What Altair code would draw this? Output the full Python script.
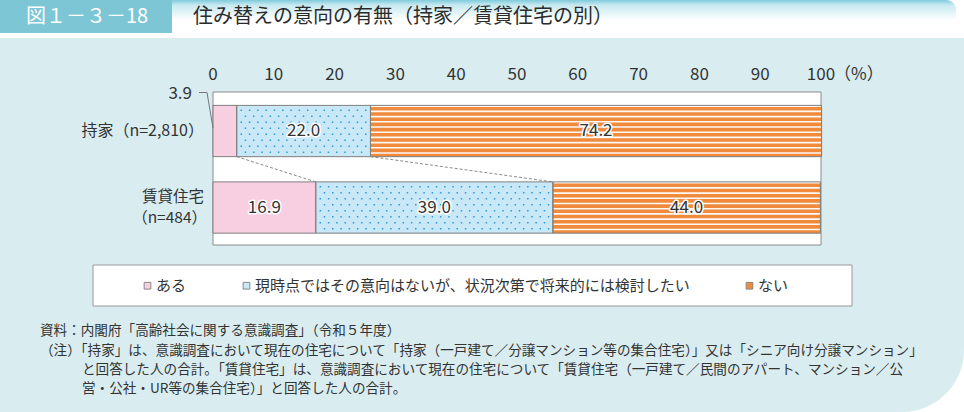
import altair as alt
import pandas as pd

# ---------------- data ----------------
categories = ["持家", "賃貸住宅"]
cat_label_lines = [["持家（n=2,810）"], ["賃貸住宅", "（n=484）"]]
answers = ["ある", "現時点ではその意向はないが、状況次第で将来的には検討したい", "ない"]
values_own = [3.9, 22.0, 74.2]
values_rent = [16.9, 39.0, 44.0]
colors = ["#f8cfe1", "#c8e8f8", "#f08a3c"]
tick_values = [0, 10, 20, 30, 40, 50, 60, 70, 80, 90, 100]
title_text = "住み替えの意向の有無（持家／賃貸住宅の別）"
fig_no = "図１－３－18"
notes = [
    "資料：内閣府「高齢社会に関する意識調査」（令和５年度）",
    "（注）「持家」は、意識調査において現在の住宅について「持家（一戸建て／分譲マンション等の集合住宅）」又は「シニア向け分譲マンション」",
    "と回答した人の合計。「賃貸住宅」は、意識調査において現在の住宅について「賃貸住宅（一戸建て／民間のアパート、マンション／公",
    "営・公社・UR等の集合住宅）」と回答した人の合計。",
]

FONT = "Noto Sans CJK JP"
W, H = 608, 153
PAD = {"left": 213, "top": 92, "right": 964 - 213 - W, "bottom": 412 - 92 - H}
HALF = 0.335
PX_PER_UNIT = W / 100.0

xs = alt.Scale(domain=[0, 100], nice=False, zero=False)
ys = alt.Scale(domain=[-0.51, 1.49], range=[0, H], nice=False, zero=False)

# segments table
rows = []
for i, vals in enumerate([values_own, values_rent]):
    cum = 0.0
    for j, v in enumerate(vals):
        rows.append({
            "idx": i, "cat": categories[i], "answer": answers[j],
            "start": cum, "end": cum + v, "mid": cum + v / 2,
            "y0": i - HALF, "y1": i + HALF,
            "lab": f"{v:.1f}", "value": v,
        })
        cum += v
seg = pd.DataFrame(rows)
ticks_df = pd.DataFrame({"t": tick_values, "lab": [str(t) for t in tick_values]})

one = pd.DataFrame({"a": [0]})


def deco_rect(x, x2, y, y2, **kw):
    return alt.Chart(one).mark_rect(**kw).encode(
        x=alt.value(x - PAD["left"]), x2=alt.value(x2 - PAD["left"]),
        y=alt.value(y - PAD["top"]), y2=alt.value(y2 - PAD["top"]))


def deco_text(txt, x, y, **kw):
    return alt.Chart(one).mark_text(text=txt, font=FONT, **kw).encode(
        x=alt.value(x - PAD["left"]), y=alt.value(y - PAD["top"]))


layers = []
# background panels
layers.append(deco_rect(0, 964, 38, 412, color="#d9edf1", cornerRadiusBottomRight=62))
layers.append(deco_rect(0, 172, 0, 33, color="#7cc6d6"))
grad = alt.LinearGradient(
    gradient="linear",
    stops=[alt.GradientStop(color="#7fcadb", offset=0),
           alt.GradientStop(color="#c6e9f0", offset=0.25),
           alt.GradientStop(color="#ffffff", offset=1)],
    x1=0, x2=0, y1=0, y2=1)
layers.append(deco_rect(172, 956, 0, 20, fill=grad, cornerRadiusTopRight=20))
layers.append(deco_text(fig_no, 87, 17, fontSize=20, color="white", align="center", baseline="middle"))
layers.append(deco_text(title_text, 193, 17, fontSize=20, color="#2b2b2b", align="left", baseline="middle"))

# plot area
layers.append(alt.Chart(one).mark_rect(fill="white", stroke="#8a8a8a", strokeWidth=1).encode(
    x=alt.X("x0:Q", scale=xs, axis=None), x2="x1:Q",
    y=alt.Y("ya:Q", scale=ys, axis=None), y2="yb:Q",
).transform_calculate(x0="0", x1="100", ya="-0.51", yb="1.49"))

# legend box
layers.append(deco_rect(93, 852, 265, 306, fill="white", stroke="#999999", strokeWidth=1))

# bars (fill)
bars = alt.Chart(seg).mark_rect(strokeWidth=0).encode(
    x=alt.X("start:Q", scale=xs, axis=None),
    x2="end:Q",
    y=alt.Y("y0:Q", scale=ys, axis=None), y2="y1:Q",
    fill=alt.Fill("answer:N", scale=alt.Scale(domain=answers, range=colors),
                  legend=alt.Legend(orient="none", legendX=144 - 4 - PAD["left"], legendY=278 - PAD["top"],
                                    direction="horizontal", columns=3, title=None,
                                    symbolType="square", symbolSize=45, symbolStrokeColor="#888888",
                                    symbolStrokeWidth=1, labelFont=FONT, labelFontSize=15,
                                    labelColor="#333333", labelLimit=700, columnPadding=52,
                                    labelOffset=1, padding=0)),
)
layers.append(bars)

# stripes on the orange segments
stripes = alt.Chart(seg).transform_filter(
    alt.datum.answer == answers[2]
).transform_calculate(
    wpx=f"(datum.end - datum.start) * {PX_PER_UNIT} - 1"
).mark_rule(stroke="white", strokeDash=[1.6, 3.6], strokeCap="butt", opacity=0.95).encode(
    x=alt.X("mid:Q", scale=xs, axis=None),
    y=alt.Y("y0:Q", scale=ys, axis=None), y2="y1:Q",
    strokeWidth=alt.StrokeWidth("wpx:Q", scale=None),
)
layers.append(stripes)

# dots on the blue segments
step_u = 8.3 / PX_PER_UNIT
for i, vals in enumerate([values_own, values_rent]):
    s = vals[0]
    e = vals[0] + vals[1]
    for p in (0, 1):
        dots = alt.Chart(alt.sequence(0, 200, 1, as_="k")).transform_filter(
            f"datum.k % 2 == {p}"
        ).transform_calculate(
            xd=f"{s} + {0.55 * step_u} + datum.k * {step_u / 2}",
            ya=f"{i - HALF}", yb=f"{i + HALF}",
        ).transform_filter(
            f"datum.xd < {e} - 0.25"
        ).mark_rule(stroke="#2a9bd8", strokeWidth=1.5, strokeDash=[1.5, 10.5],
                    strokeDashOffset=8 if p == 0 else 2, strokeCap="butt").encode(
            x=alt.X("xd:Q", scale=xs, axis=None),
            y=alt.Y("ya:Q", scale=ys, axis=None), y2="yb:Q",
        )
        layers.append(dots)

# outlines
layers.append(alt.Chart(seg).mark_rect(fillOpacity=0, stroke="#7f7f7f", strokeWidth=1).encode(
    x=alt.X("start:Q", scale=xs, axis=None), x2="end:Q",
    y=alt.Y("y0:Q", scale=ys, axis=None), y2="y1:Q",
))

# dashed connectors between bars
conn_rows = []
c_own = 0.0
c_rent = 0.0
for j in range(2):
    c_own += values_own[j]
    c_rent += values_rent[j]
    conn_rows.append({"xa": c_own, "xb": c_rent, "ya": 0 + HALF, "yb": 1 - HALF})
conn = pd.DataFrame(conn_rows)
layers.append(alt.Chart(conn).mark_rule(stroke="#8a8a8a", strokeDash=[3, 2], strokeWidth=1).encode(
    x=alt.X("xa:Q", scale=xs, axis=None), x2="xb:Q",
    y=alt.Y("ya:Q", scale=ys, axis=None), y2="yb:Q",
))

# value labels (inside)
inside = alt.Chart(seg).transform_filter(alt.datum.value >= 5)
layers.append(inside.mark_text(font=FONT, fontSize=17, color="white", stroke="white", strokeWidth=3,
                               strokeJoin="round", baseline="middle", align="center").encode(
    x=alt.X("mid:Q", scale=xs, axis=None), y=alt.Y("idx:Q", scale=ys, axis=None), text="lab:N"))
layers.append(inside.mark_text(font=FONT, fontSize=17, color="#333333", baseline="middle", align="center").encode(
    x=alt.X("mid:Q", scale=xs, axis=None), y=alt.Y("idx:Q", scale=ys, axis=None), text="lab:N"))

# small value label (3.9) with leader
small = alt.Chart(seg).transform_filter(alt.datum.value < 5)
layers.append(small.mark_text(font=FONT, fontSize=17, color="#333333", baseline="middle", align="right").encode(
    x=alt.value(192 - PAD["left"]), y=alt.value(94 - PAD["top"]), text="lab:N"))
layers.append(alt.Chart(one).mark_rule(stroke="#777777", strokeWidth=1).encode(
    x=alt.value(199 - PAD["left"]), x2=alt.value(207 - PAD["left"]),
    y=alt.value(92.5 - PAD["top"]), y2=alt.value(92.5 - PAD["top"])))
layers.append(alt.Chart(one).mark_rule(stroke="#777777", strokeWidth=1).encode(
    x=alt.value(207 - PAD["left"]), x2=alt.value(213 - PAD["left"]),
    y=alt.value(92.5 - PAD["top"]), y2=alt.value(128 - PAD["top"])))

# tick labels along the top (through the x scale)
layers.append(alt.Chart(ticks_df).mark_text(font=FONT, fontSize=17, color="#333333",
                                            align="center", baseline="middle").encode(
    x=alt.X("t:Q", scale=xs, axis=None), y=alt.value(75 - PAD["top"]), text="lab:N"))

# category labels (one layer per line)
for i, lines in enumerate(cat_label_lines):
    n = len(lines)
    for k, line in enumerate(lines):
        dy = (k - (n - 1) / 2) * 21.5
        lab_df = pd.DataFrame({"idx": [i], "label": [line]})
        layers.append(alt.Chart(lab_df).mark_text(font=FONT, fontSize=15.5 if n > 1 else 16,
                                                  color="#333333", align="right",
                                                  baseline="middle", dy=dy).encode(
            x=alt.value((204 if k == 0 or n == 1 else 207) - PAD["left"]),
            y=alt.Y("idx:Q", scale=ys, axis=None), text="label:N"))

# percent unit
layers.append(deco_text("（%）", 834, 75, fontSize=17, color="#333333", align="left", baseline="middle"))

# notes
note_pos = [(40, 331), (40, 351), (82, 370), (82, 389)]
for t, (nx, ny) in zip(notes, note_pos):
    layers.append(deco_text(t, nx, ny, fontSize=13.6, color="#333333", align="left", baseline="middle"))

chart = alt.layer(*layers).properties(
    width=W, height=H, padding=PAD, autosize=alt.AutoSizeParams(type="none"), background="white"
).configure_view(stroke=None)

chart.save("out.html", embed_options={"renderer": "svg", "actions": False})
